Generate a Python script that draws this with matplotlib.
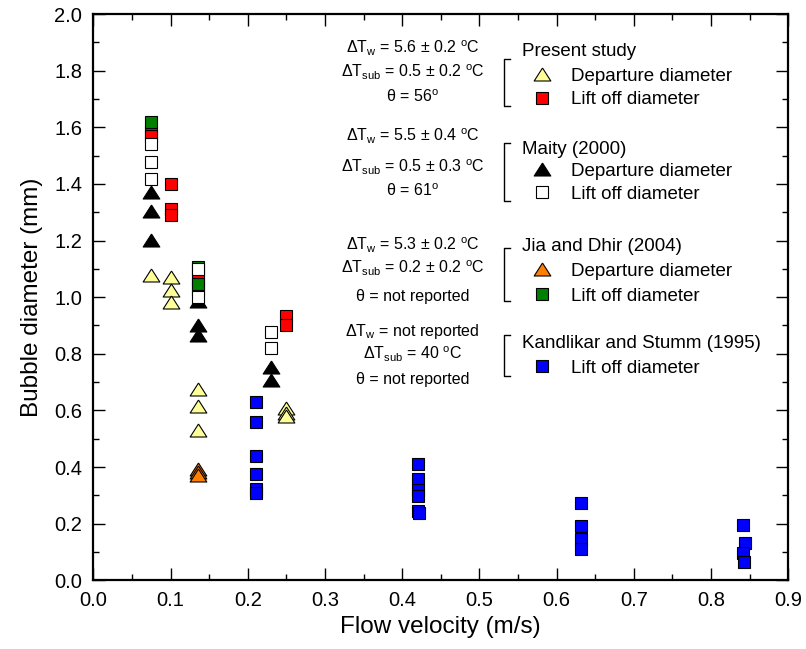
import numpy as np
import matplotlib
matplotlib.use('Agg')
from matplotlib import pyplot as plt
from matplotlib.ticker import MultipleLocator

plt.rcParams['font.family'] = ['Liberation Sans', 'DejaVu Sans']
plt.rcParams['mathtext.fontset'] = 'custom'
plt.rcParams['mathtext.rm'] = 'Liberation Sans'
plt.rcParams['mathtext.it'] = 'Liberation Sans:italic'

# present study
present_dep_v = [0.075, 0.1, 0.1, 0.1, 0.135, 0.135, 0.135, 0.25, 0.25, 0.25]
present_dep_d = [1.078, 1.072, 1.025, 0.983, 0.674, 0.615, 0.532, 0.607, 0.591, 0.58]
present_lift_v = [0.075, 0.075, 0.1, 0.1, 0.1, 0.135, 0.135, 0.25, 0.25]
present_lift_d = [1.585, 1.57, 1.399, 1.31, 1.291, 1.065, 1.03, 0.933, 0.90]

# Maity (2000)
maity_dep_v = [0.075, 0.075, 0.075, 0.135, 0.135, 0.135, 0.23, 0.23]
maity_dep_d = [1.372, 1.304, 1.201, 0.985, 0.90, 0.866, 0.754, 0.707]
maity_lift_v = [0.075, 0.075, 0.075, 0.135, 0.135, 0.23, 0.23]
maity_lift_d = [1.54, 1.477, 1.417, 1.099, 1.001, 0.877, 0.819]

# Jia and Dhir (2004)
jia_dep_v = [0.135, 0.135, 0.135]
jia_dep_d = [0.393, 0.382, 0.372]
jia_lift_v = [0.075, 0.135, 0.135]
jia_lift_d = [1.619, 1.105, 1.048]

# Kandlikar and Stumm (1995)
kand_v = [0.211, 0.211, 0.211, 0.211, 0.211, 0.211,
          0.42, 0.42, 0.42, 0.42, 0.42, 0.422,
          0.632, 0.632, 0.632, 0.632,
          0.842, 0.844, 0.841, 0.843]
kand_d = [0.63, 0.559, 0.438, 0.375, 0.324, 0.307,
          0.41, 0.357, 0.318, 0.297, 0.244, 0.238,
          0.273, 0.191, 0.147, 0.11,
          0.197, 0.132, 0.098, 0.065]

# flattened triangle marker
tri = [(0, 0.78), (-1, -0.78), (1, -0.78), (0, 0.78)]
sq_size = 8.5
tri_size = 12
ew = 0.8

fig = plt.figure(figsize=(8.06, 6.49), dpi=100)
ax = fig.add_axes([0.1158, 0.1058, 0.8622, 0.8726])

def square(x, y, color):
    ax.plot(x, y, 's', ms=sq_size, mfc=color, mec='black', mew=ew, ls='none')

def triangle(x, y, color):
    ax.plot(x, y, marker=tri, ms=tri_size, mfc=color, mec='black', mew=ew, ls='none')

triangle(present_dep_v, present_dep_d, '#FFFF99')
square(present_lift_v, present_lift_d, '#FF0000')
triangle(jia_dep_v, jia_dep_d, '#FF7F00')
square(jia_lift_v, jia_lift_d, '#008000')
triangle(maity_dep_v, maity_dep_d, 'black')
square(maity_lift_v, maity_lift_d, 'white')
square(kand_v, kand_d, '#0000FF')

ax.set_xlim(0, 0.9)
ax.set_ylim(0, 2.0)
ax.xaxis.set_major_locator(MultipleLocator(0.1))
ax.xaxis.set_minor_locator(MultipleLocator(0.05))
ax.yaxis.set_major_locator(MultipleLocator(0.2))
ax.yaxis.set_minor_locator(MultipleLocator(0.1))
ax.xaxis.set_major_formatter(plt.FormatStrFormatter('%.1f'))
ax.yaxis.set_major_formatter(plt.FormatStrFormatter('%.1f'))
ax.tick_params(which='both', direction='in', top=True, right=True, width=1.0)
ax.tick_params(which='major', length=8.5, labelsize=14.5, pad=8)
ax.tick_params(which='minor', length=4.5)
for s in ax.spines.values():
    s.set_linewidth(1.6)

ax.set_xlabel('Flow velocity (m/s)', fontsize=17.5, labelpad=4)
ax.set_ylabel('Bubble diameter (mm)', fontsize=17.5, labelpad=8)

# conditions text and grouped legend
cond_x = 0.4136
cond_fs = 11.5
groups = [
    (['ΔT$_{\\rm w}$ = 5.6 ± 0.2 $^{\\rm o}$C',
      'ΔT$_{\\rm sub}$ = 0.5 ± 0.2 $^{\\rm o}$C',
      'θ = 56$^{\\rm o}$'], [1.876, 1.793, 1.705]),
    (['ΔT$_{\\rm w}$ = 5.5 ± 0.4 $^{\\rm o}$C',
      'ΔT$_{\\rm sub}$ = 0.5 ± 0.3 $^{\\rm o}$C',
      'θ = 61$^{\\rm o}$'], [1.566, 1.455, 1.374]),
    (['ΔT$_{\\rm w}$ = 5.3 ± 0.2 $^{\\rm o}$C',
      'ΔT$_{\\rm sub}$ = 0.2 ± 0.2 $^{\\rm o}$C',
      'θ = not reported'], [1.180, 1.098, 1.003]),
    (['ΔT$_{\\rm w}$ = not reported',
      'ΔT$_{\\rm sub}$ = 40 $^{\\rm o}$C',
      'θ = not reported'], [0.879, 0.797, 0.709]),
]
for lines, ys in groups:
    for txt, y in zip(lines, ys):
        ax.text(cond_x, y - 0.015, txt, fontsize=cond_fs, ha='center', va='baseline')

leg_fs = 13.5
brk_x, arm_x = 0.5317, 0.539
head_x, mk_x, lab_x = 0.5546, 0.5811, 0.6189
legend = [
    ('Present study', 1.876, (1.841, 1.675),
     [('tri', '#FFFF99', 'Departure diameter', 1.787),
      ('sq', '#FF0000', 'Lift off diameter', 1.705)]),
    ('Maity (2000)', 1.531, (1.546, 1.339),
     [('tri', 'black', 'Departure diameter', 1.451),
      ('sq', 'white', 'Lift off diameter', 1.370)]),
    ('Jia and Dhir (2004)', 1.186, (1.174, 0.986),
     [('tri', '#FF7F00', 'Departure diameter', 1.098),
      ('sq', '#008000', 'Lift off diameter', 1.010)]),
    ('Kandlikar and Stumm (1995)', 0.844, (0.868, 0.720),
     [('sq', '#0000FF', 'Lift off diameter', 0.756)]),
]
for head, hy, (b0, b1), items in legend:
    ax.plot([arm_x, brk_x, brk_x, arm_x], [b0, b0, b1, b1], color='black', lw=1.0)
    ax.text(head_x, hy - 0.0237, head, fontsize=leg_fs, ha='left', va='baseline')
    for kind, color, label, y in items:
        if kind == 'tri':
            triangle([mk_x], [y], color)
        else:
            square([mk_x], [y], color)
        ax.text(lab_x, y - 0.0237, label, fontsize=leg_fs, ha='left', va='baseline')

fig.savefig('out.png', dpi=100)
